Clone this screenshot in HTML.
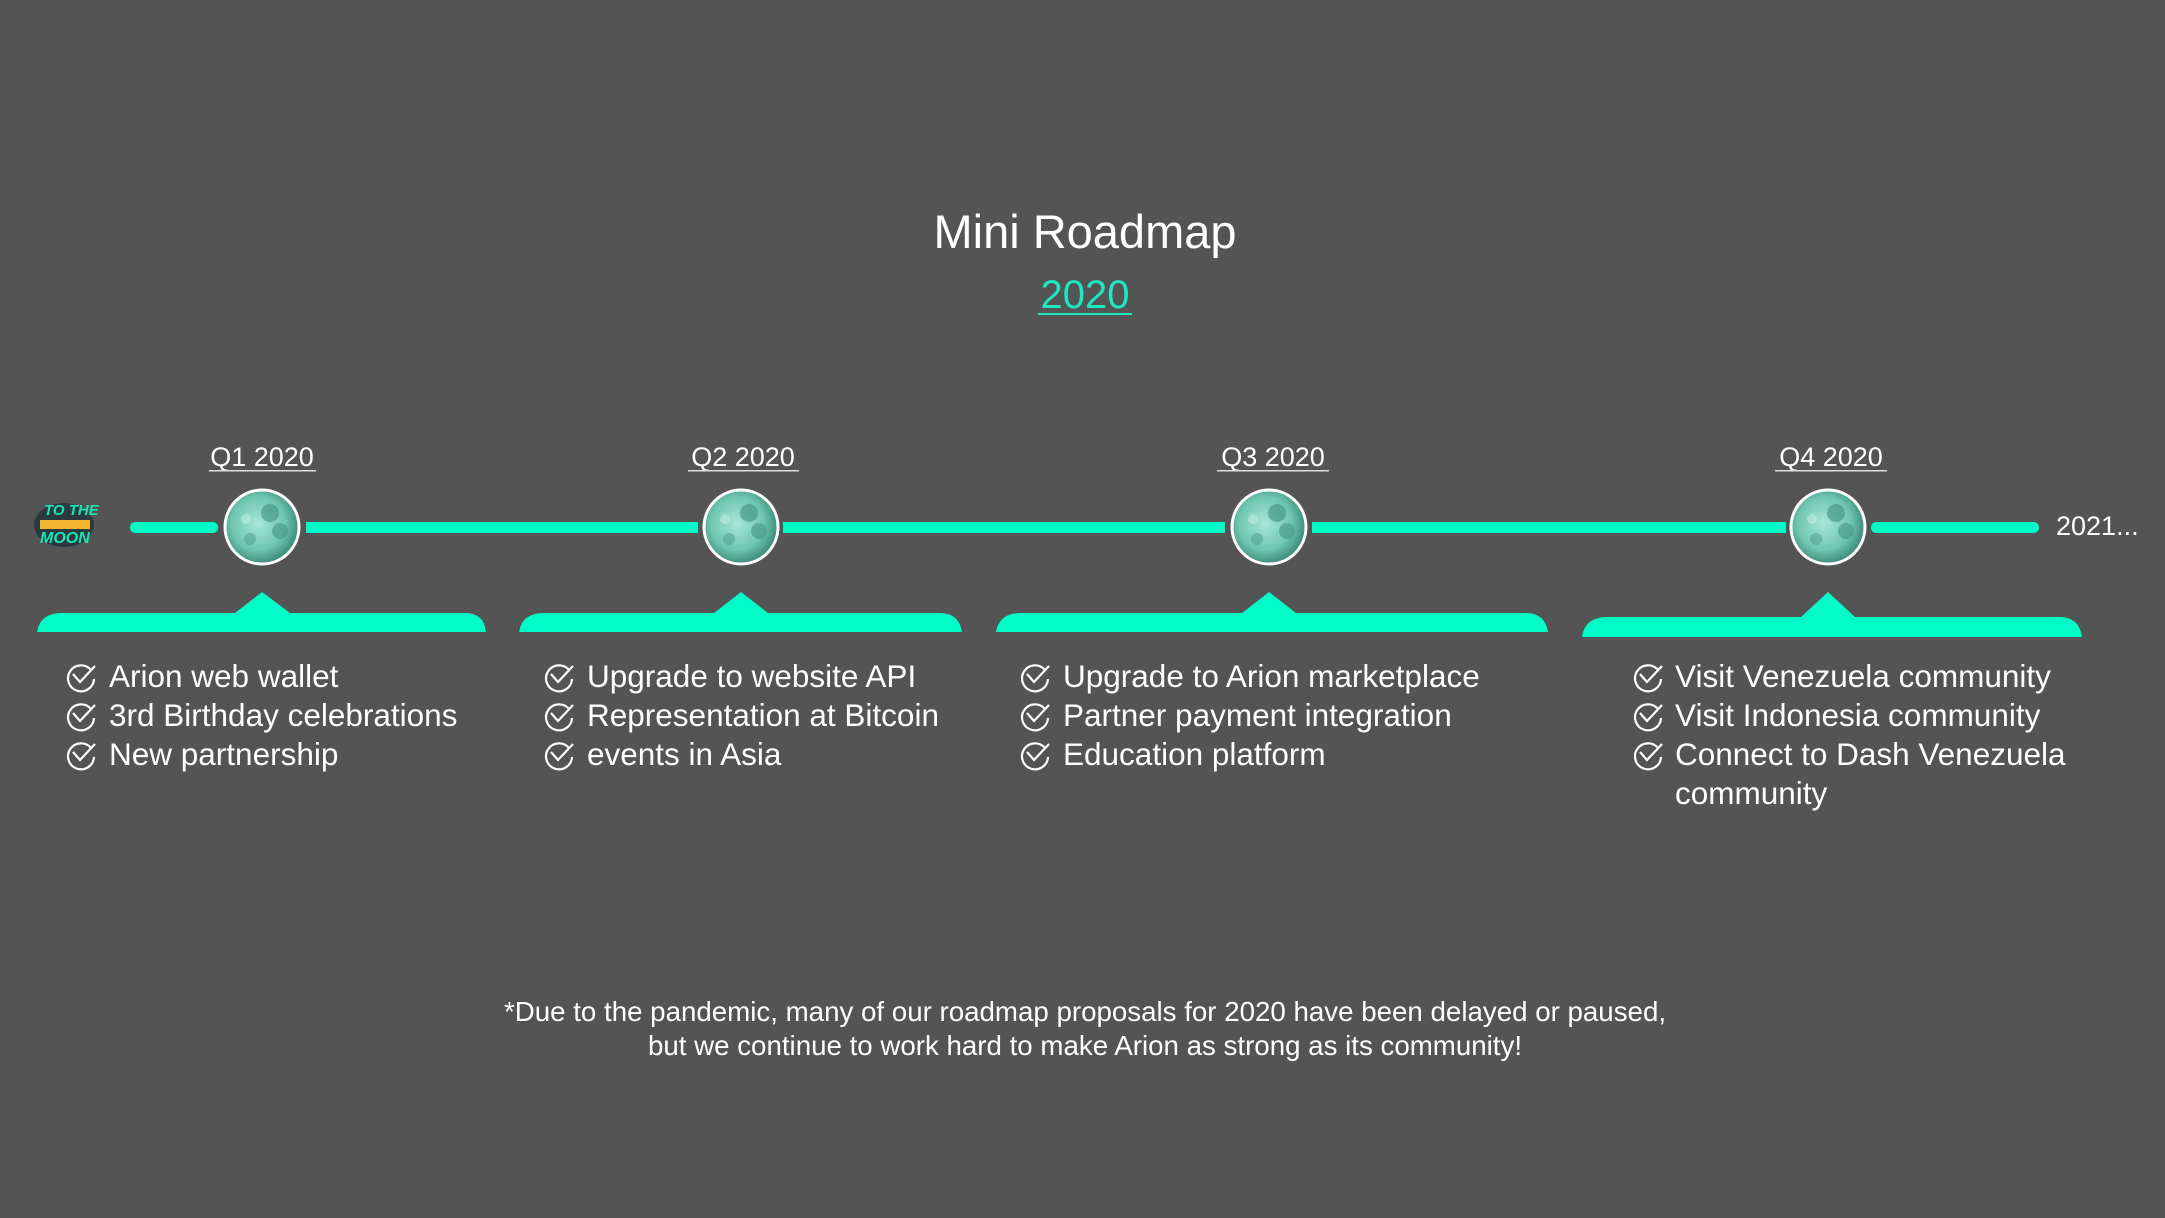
<!DOCTYPE html>
<html><head><meta charset="utf-8"><style>
html,body{margin:0;padding:0;background:#545454;}
svg{display:block}
text{font-family:"Liberation Sans",sans-serif;fill:#fff}
</style></head><body>
<svg width="2165" height="1218" viewBox="0 0 2165 1218" xmlns="http://www.w3.org/2000/svg">
<defs>
<radialGradient id="mg" cx="45%" cy="45%" r="60%">
<stop offset="0" stop-color="#a8e6d6"/><stop offset="0.6" stop-color="#6fc6b0"/><stop offset="1" stop-color="#2f7d6c"/>
</radialGradient>
<g id="moon">
<circle r="37" fill="url(#mg)" stroke="#fff" stroke-width="3"/>
<circle cx="8" cy="-14" r="9" fill="#3f8f7e" opacity="0.6"/>
<circle cx="18" cy="4" r="8" fill="#3f8f7e" opacity="0.55"/>
<circle cx="-12" cy="12" r="6" fill="#4c9c8a" opacity="0.5"/>
<circle cx="-16" cy="-8" r="5" fill="#c5f2e6" opacity="0.5"/>
</g>
<g id="chk" fill="none" stroke="#fff" stroke-width="2.2">
<path d="M 11 -7 A 13 13 0 1 0 14 2"/>
<path d="M -7 -3 L 0 5 L 15 -11"/>
</g>
</defs>
<rect width="2165" height="1218" fill="#545454"/>
<text x="1085" y="248" font-size="47" text-anchor="middle" font-weight="300">Mini Roadmap</text>
<text x="1085" y="308" font-size="40" text-anchor="middle" style="fill:#1ee8c0">2020</text>
<rect x="1038" y="313" width="94" height="2" fill="#1ee8c0"/>

<g transform="translate(64,525)">
<ellipse cx="0" cy="0" rx="30" ry="22" fill="#2b3a40"/>
<rect x="-24" y="-5" width="50" height="9" fill="#f2b632"/>
<text x="-20" y="-10" font-size="15" font-style="italic" font-weight="bold" style="fill:#19e6b4">TO THE</text>
<text x="-24" y="18" font-size="16" font-style="italic" font-weight="bold" style="fill:#19e6b4">MOON</text>
</g>

<g fill="#00fdc8">
<rect x="130" y="522" width="88" height="11" rx="5"/>
<rect x="306" y="522" width="392" height="11"/>
<rect x="783" y="522" width="442" height="11"/>
<rect x="1312" y="522" width="474" height="11"/>
<rect x="1871" y="522" width="168" height="11" rx="5"/>
</g>
<text x="2056" y="535" font-size="27">2021...</text>

<g font-size="27" text-anchor="middle">
<text x="262" y="466">Q1 2020</text>
<text x="743" y="466">Q2 2020</text>
<text x="1273" y="466">Q3 2020</text>
<text x="1831" y="466">Q4 2020</text>
</g>
<g fill="#ddd">
<rect x="209" y="470" width="107" height="1.5"/>
<rect x="688" y="470" width="111" height="1.5"/>
<rect x="1217" y="470" width="112" height="1.5"/>
<rect x="1775" y="470" width="112" height="1.5"/>
</g>

<use href="#moon" x="262" y="527"/>
<use href="#moon" x="741" y="527"/>
<use href="#moon" x="1269" y="527"/>
<use href="#moon" x="1828" y="527"/>

<g fill="#00fdc8">
<path d="M37 632 Q40 613 62 613 L235 613 L262 592 L290 613 L465 613 Q484 613 486 632 Z"/>
<path d="M519 632 Q522 613 544 613 L714 613 L741 592 L768 613 L940 613 Q959 613 962 632 Z"/>
<path d="M996 632 Q999 613 1021 613 L1242 613 L1269 592 L1296 613 L1526 613 Q1545 613 1548 632 Z"/>
<path d="M1582 637 Q1585 617 1607 617 L1801 617 L1828 592 L1855 617 L2060 617 Q2079 617 2082 637 Z"/>
</g>

<g font-size="31.5">
<use href="#chk" x="80" y="677"/><text x="109" y="687">Arion web wallet</text>
<use href="#chk" x="80" y="716"/><text x="109" y="726">3rd Birthday celebrations</text>
<use href="#chk" x="80" y="755"/><text x="109" y="765">New partnership</text>

<use href="#chk" x="558" y="677"/><text x="587" y="687">Upgrade to website API</text>
<use href="#chk" x="558" y="716"/><text x="587" y="726">Representation at Bitcoin</text>
<use href="#chk" x="558" y="755"/><text x="587" y="765">events in Asia</text>

<use href="#chk" x="1034" y="677"/><text x="1063" y="687">Upgrade to Arion marketplace</text>
<use href="#chk" x="1034" y="716"/><text x="1063" y="726">Partner payment integration</text>
<use href="#chk" x="1034" y="755"/><text x="1063" y="765">Education platform</text>

<use href="#chk" x="1647" y="677"/><text x="1675" y="687">Visit Venezuela community</text>
<use href="#chk" x="1647" y="716"/><text x="1675" y="726">Visit Indonesia community</text>
<use href="#chk" x="1647" y="755"/><text x="1675" y="765">Connect to Dash Venezuela</text>
<text x="1675" y="804">community</text>
</g>

<g font-size="27.7" text-anchor="middle">
<text x="1085" y="1021">*Due to the pandemic, many of our roadmap proposals for 2020 have been delayed or paused,</text>
<text x="1085" y="1055">but we continue to work hard to make Arion as strong as its community!</text>
</g>
</svg>
</body></html>
